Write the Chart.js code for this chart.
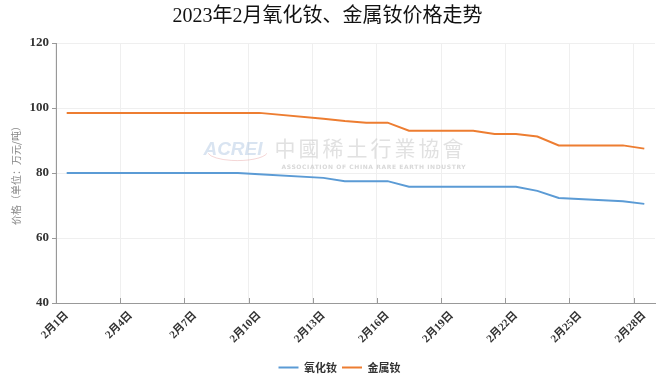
<!DOCTYPE html>
<html>
<head>
<meta charset="utf-8">
<script src="https://cdn.jsdelivr.net/npm/chart.js@4"></script>
<style>
  body { margin: 0; background: #fff; }
  #wrap { width: 664px; height: 383px; }
</style>
</head>
<body>
<div id="wrap"><canvas id="chart"></canvas></div>
<script>
// days of Feb 2023 (category labels)
const days = [];
for (let d = 1; d <= 28; d++) days.push('2月' + d + '日');

// prices, 万元/吨 ; null = no quote that day (weekend)
const oxideNd = [80, 80, 80, null, null, 80, 80, 80, 80, 79.6, null, null, 78.5, 77.5, 77.5, 77.5, 75.8, null, null, 75.8, 75.8, 75.8, 74.5, 72.3, null, null, 71.3, 70.5];
const metalNd = [98.5, 98.5, 98.5, null, null, 98.5, 98.5, 98.5, 98.5, 98.5, null, null, 96.7, 96.0, 95.5, 95.5, 93.0, null, null, 93.0, 92.0, 92.0, 91.2, 88.5, null, null, 88.5, 87.5];

const yTicks = [40, 60, 80, 100, 120];

const serif = "'Liberation Serif', 'Noto Sans CJK SC', serif";

// faint association watermark behind the lines
const watermark = {
  id: 'watermark',
  beforeDatasetsDraw(chart) {
    const { ctx, chartArea: a } = chart;
    const cx = a.left + (a.right - a.left) * 0.47;
    const cy = a.top + (a.bottom - a.top) * 0.41;
    ctx.save();
    ctx.textBaseline = 'middle';
    ctx.font = "italic bold 19px 'Liberation Sans', sans-serif";
    ctx.fillStyle = 'rgba(170,195,225,0.45)';
    ctx.textAlign = 'right';
    ctx.fillText('ACREI', cx - 75, cy);
    ctx.strokeStyle = 'rgba(220,120,120,0.3)';
    ctx.lineWidth = 1;
    ctx.beginPath();
    ctx.ellipse(cx - 100, cy + 2, 30, 9, 0, 0.2, Math.PI - 0.2);
    ctx.stroke();
    ctx.textAlign = 'left';
    ctx.font = "21px 'Noto Sans CJK TC', sans-serif";
    ctx.fillStyle = 'rgba(200,200,200,0.55)';
    ctx.letterSpacing = '3px';
    ctx.fillText('中國稀土行業協會', cx - 63, cy - 2);
    ctx.font = "bold 6px 'DejaVu Sans', sans-serif";
    ctx.fillStyle = 'rgba(190,190,190,0.6)';
    ctx.letterSpacing = '0.6px';
    ctx.fillText('ASSOCIATION OF CHINA RARE EARTH INDUSTRY', cx - 56, cy + 18);
    ctx.restore();
  }
};

// short tick marks pointing up from the date axis, every 3 days
const innerTicks = {
  id: 'innerTicks',
  afterDatasetsDraw(chart) {
    const { ctx } = chart;
    const x = chart.scales.x;
    const half = (x.getPixelForValue(1) - x.getPixelForValue(0)) / 2;
    ctx.save();
    ctx.strokeStyle = '#999';
    ctx.lineWidth = 1;
    ctx.beginPath();
    for (let i = 0; i < days.length; i += 3) {
      const px = Math.round(x.getPixelForValue(i) - half) + 0.5;
      ctx.moveTo(px, x.top);
      ctx.lineTo(px, x.top - 5);
    }
    ctx.stroke();
    ctx.restore();
  }
};

// nudge the legend a little right, as in the source picture
const legendShift = {
  id: 'legendShift',
  afterLayout(chart) {
    chart.legend.left += 12;
    chart.legend.right += 12;
  }
};

new Chart(document.getElementById('chart'), {
  type: 'line',
  data: {
    labels: days,
    datasets: [
      { label: '氧化钕', data: oxideNd, borderColor: '#5B9BD5', backgroundColor: '#5B9BD5', borderWidth: 2, pointRadius: 0, spanGaps: true, tension: 0 },
      { label: '金属钕', data: metalNd, borderColor: '#ED7D31', backgroundColor: '#ED7D31', borderWidth: 2, pointRadius: 0, spanGaps: true, tension: 0 }
    ]
  },
  options: {
    responsive: true,
    maintainAspectRatio: false,
    animation: false,
    layout: { padding: { left: 0, right: 9, top: 0, bottom: 0 } },
    plugins: {
      title: {
        display: true,
        text: '2023年2月氧化钕、金属钕价格走势',
        color: '#111',
        font: { family: serif, size: 20, weight: 'normal' },
        padding: { top: 5, bottom: 14 }
      },
      legend: {
        position: 'bottom',
        labels: {
          usePointStyle: true,
          pointStyle: 'line',
          pointStyleWidth: 20,
          padding: 5,
          color: '#333',
          font: { family: "'Noto Sans CJK SC', sans-serif", size: 11, weight: 'bold' }
        }
      },
      tooltip: { enabled: false }
    },
    scales: {
      x: {
        offset: true,
        grid: {
          offset: true,
          tickLength: 0,
          color: c => (c.index % 3 === 0 || c.index === days.length ? '#efefef' : 'rgba(0,0,0,0)')
        },
        border: { color: '#999' },
        ticks: {
          autoSkip: false,
          maxRotation: 45,
          minRotation: 45,
          padding: 6,
          color: '#333',
          font: { family: serif, size: 11, weight: 'bold' },
          callback: (v, i) => (i % 3 === 0 ? days[i] : '')
        },
        afterFit: s => { s.height = 54; }
      },
      y: {
        min: 40,
        max: 120,
        afterBuildTicks: s => { s.ticks = yTicks.map(v => ({ value: v })); },
        grid: { color: '#efefef', tickLength: 4, tickColor: '#999' },
        border: { color: '#999' },
        ticks: {
          padding: 3,
          color: '#333',
          font: { family: serif, size: 13, weight: 'bold' }
        },
        title: {
          display: true,
          text: '价格（单位：万元/吨）',
          color: '#888',
          font: { family: "'Noto Sans CJK SC', sans-serif", size: 10 },
          padding: { top: 10, bottom: 0 }
        },
        afterFit: s => { s.width = 56; }
      }
    }
  },
  plugins: [watermark, innerTicks, legendShift]
});
</script>
</body>
</html>
